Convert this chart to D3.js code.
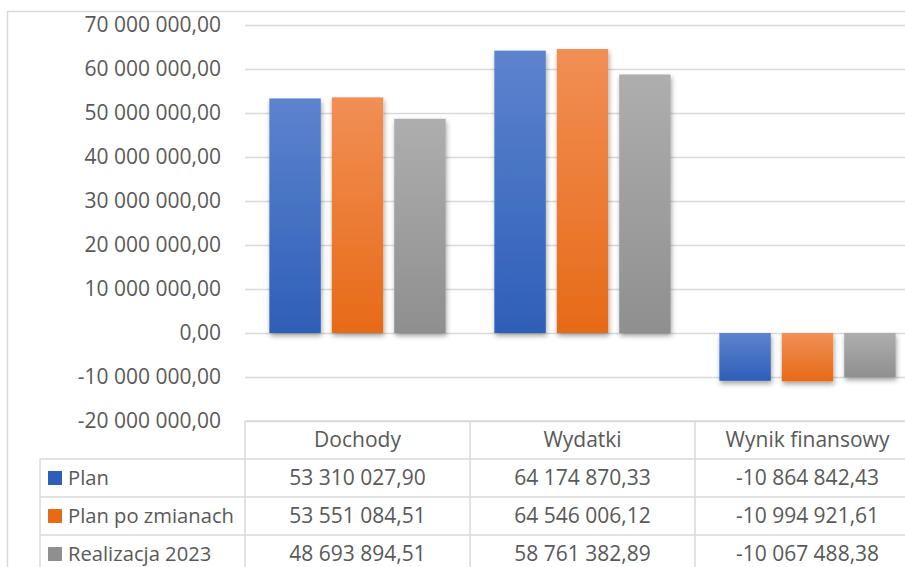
<!DOCTYPE html>
<html>
<head>
<meta charset="utf-8">
<script src="https://cdn.jsdelivr.net/npm/d3@7"></script>
<style>
  body { margin: 0; background: #fff; }
  svg { display: block; }
  text { font-family: "Open Sans", sans-serif; fill: #595959; }
</style>
</head>
<body>
<div id="chart"></div>
<script>
const categories = ["Dochody", "Wydatki", "Wynik finansowy"]
const seriesNames = ["Plan", "Plan po zmianach", "Realizacja 2023"]
const plan = [53310027.90, 64174870.33, -10864842.43]
const planPoZmianach = [53551084.51, 64546006.12, -10994921.61]
const realizacja = [48693894.51, 58761382.89, -10067488.38]
const tickValues = [-20000000, -10000000, 0, 10000000, 20000000, 30000000, 40000000, 50000000, 60000000, 70000000]

const WIDTH = 905
const HEIGHT = 567
const PLOT = {LEFT: 245, RIGHT: 920, TOP: 25, BOTTOM: 421}
const ROW_H = 38
const FONT = 21

const seriesValues = [plan, planPoZmianach, realizacja]
const colors = [
  {top: "#5d83ce", bottom: "#2e5fb8"},
  {top: "#f18f55", bottom: "#e76a17"},
  {top: "#aeaeae", bottom: "#8f8f8f"}
]

// polish number format: space thousands, comma decimals, plain hyphen minus
const pl = d3.formatLocale({decimal: ",", thousands: " ", grouping: [3], currency: ["", ""], minus: "-"})
const fmt = pl.format(",.2f")

const svg = d3.select("#chart").append("svg")
  .attr("width", WIDTH)
  .attr("height", HEIGHT)

const defs = svg.append("defs")
colors.forEach((c, i) => {
  const g = defs.append("linearGradient")
    .attr("id", "grad" + i)
    .attr("x1", 0).attr("y1", 0).attr("x2", 0).attr("y2", 1)
  g.append("stop").attr("offset", "0%").attr("stop-color", c.top)
  g.append("stop").attr("offset", "100%").attr("stop-color", c.bottom)
})
const shadow = defs.append("filter").attr("id", "shadow")
  .attr("x", "-20%").attr("y", "-20%").attr("width", "150%").attr("height", "150%")
shadow.append("feDropShadow")
  .attr("dx", 1).attr("dy", 3).attr("stdDeviation", 2.5)
  .attr("flood-color", "#000").attr("flood-opacity", 0.35)

// outer chart frame
svg.append("rect")
  .attr("x", 7.5).attr("y", 11.5)
  .attr("width", WIDTH + 20).attr("height", HEIGHT + 20)
  .attr("fill", "none").attr("stroke", "#d9d9d9").attr("stroke-width", 1.5)

const y = d3.scaleLinear()
  .domain([-20000000, 70000000])
  .range([PLOT.BOTTOM, PLOT.TOP])

const x = d3.scaleBand()
  .domain(categories)
  .range([PLOT.LEFT, PLOT.RIGHT])

const xInner = d3.scaleBand()
  .domain(seriesNames)
  .range([0, x.bandwidth()])
  .paddingInner(0.176)
  .paddingOuter(0.39)

// gridlines + labels
const yAxis = d3.axisLeft(y)
  .tickValues(tickValues)
  .tickFormat(fmt)
  .tickSize(-(PLOT.RIGHT - PLOT.LEFT))
  .tickPadding(24)

const yg = svg.append("g")
  .attr("transform", `translate(${PLOT.LEFT},0)`)
  .call(yAxis)
yg.select(".domain").remove()
yg.selectAll(".tick line")
  .attr("stroke", "#d9d9d9").attr("stroke-width", 1.5)
yg.selectAll(".tick text")
  .attr("font-size", FONT)
  .attr("fill", "#595959")
  .style("font-family", "'Open Sans', sans-serif")

// bars
const groups = svg.append("g").selectAll("g")
  .data(seriesNames)
  .join("g")

groups.each(function(name, si) {
  d3.select(this).selectAll("rect")
    .data(categories.map((c, ci) => ({cat: c, value: seriesValues[si][ci]})))
    .join("rect")
      .attr("x", d => x(d.cat) + xInner(name))
      .attr("width", xInner.bandwidth())
      .attr("y", d => y(Math.max(0, d.value)))
      .attr("height", d => Math.abs(y(d.value) - y(0)))
      .attr("fill", `url(#grad${si})`)
      .attr("filter", "url(#shadow)")
})

// data table
const table = svg.append("g")
const tableLeft = 40
const rowsTop = PLOT.BOTTOM + ROW_H
const lineStyle = sel => sel.attr("stroke", "#d9d9d9").attr("stroke-width", 1.5)

// header row lines
table.append("line")
  .attr("x1", PLOT.LEFT).attr("x2", PLOT.RIGHT)
  .attr("y1", PLOT.BOTTOM).attr("y2", PLOT.BOTTOM)
  .call(lineStyle)
seriesNames.forEach((s, i) => {
  const yy = rowsTop + i * ROW_H
  table.append("line")
    .attr("x1", tableLeft).attr("x2", PLOT.RIGHT)
    .attr("y1", yy).attr("y2", yy)
    .call(lineStyle)
})
table.append("line")
  .attr("x1", tableLeft).attr("x2", tableLeft)
  .attr("y1", rowsTop).attr("y2", HEIGHT + 10)
  .call(lineStyle)
categories.forEach(c => {
  table.append("line")
    .attr("x1", x(c)).attr("x2", x(c))
    .attr("y1", PLOT.BOTTOM).attr("y2", HEIGHT + 10)
    .call(lineStyle)
})

table.selectAll(".header")
  .data(categories)
  .join("text")
    .attr("class", "header")
    .attr("x", d => x(d) + x.bandwidth() / 2)
    .attr("y", PLOT.BOTTOM + ROW_H / 2)
    .attr("dy", "0.35em")
    .attr("text-anchor", "middle")
    .attr("font-size", FONT)
    .text(d => d)

seriesNames.forEach((s, si) => {
  const cy = rowsTop + si * ROW_H + ROW_H / 2
  table.append("rect")
    .attr("x", 48).attr("y", cy - 7)
    .attr("width", 14).attr("height", 14)
    .attr("fill", colors[si].bottom)
  table.append("text")
    .attr("x", 68).attr("y", cy)
    .attr("dy", "0.35em")
    .attr("font-size", 20.2)
    .text(s)
  table.selectAll(".v" + si)
    .data(categories.map((c, ci) => ({cat: c, value: seriesValues[si][ci]})))
    .join("text")
      .attr("x", d => x(d.cat) + x.bandwidth() / 2)
      .attr("y", cy)
      .attr("dy", "0.35em")
      .attr("text-anchor", "middle")
      .attr("font-size", FONT)
      .text(d => fmt(d.value))
})
</script>
</body>
</html>
